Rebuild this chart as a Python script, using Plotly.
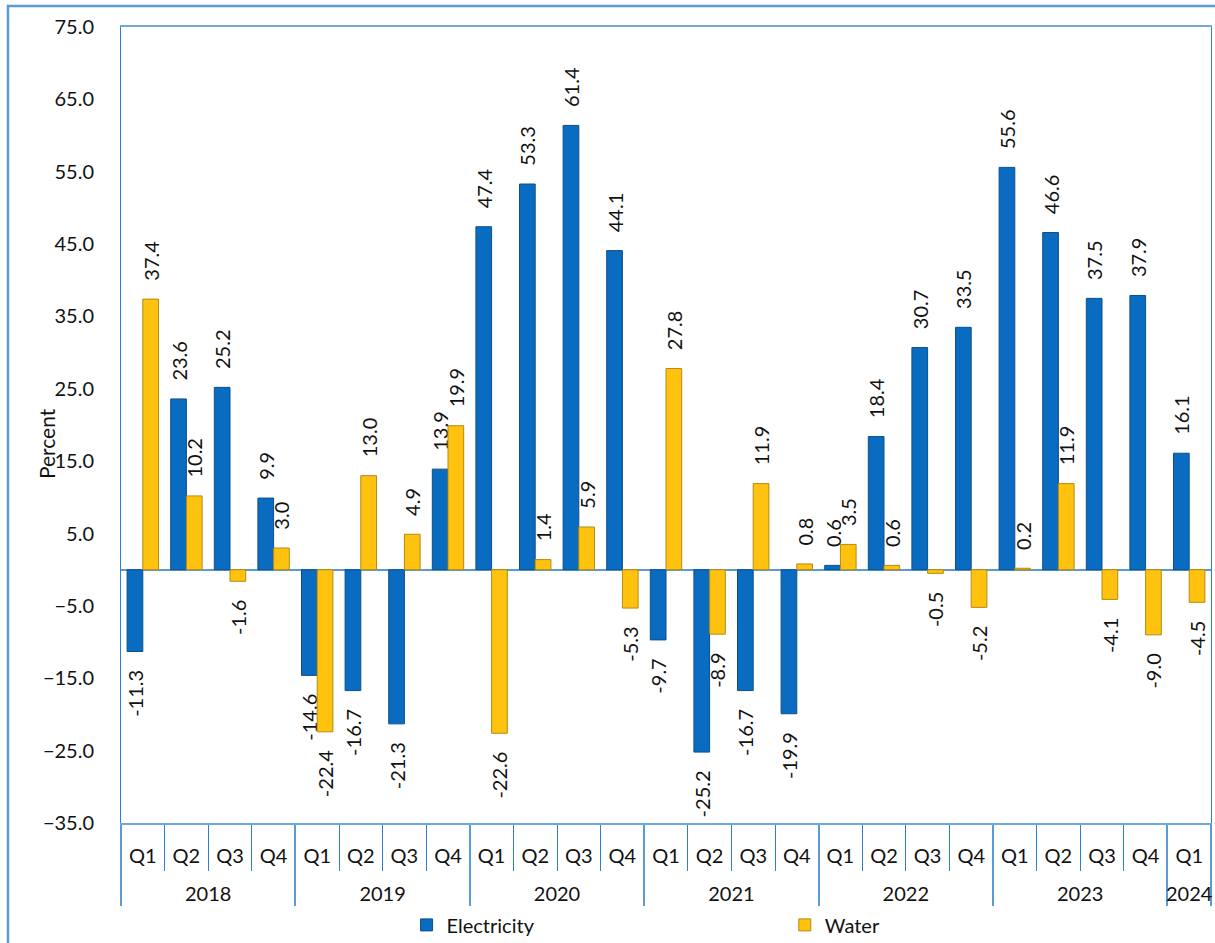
import plotly.graph_objects as go

years = ["2018"] * 4 + ["2019"] * 4 + ["2020"] * 4 + ["2021"] * 4 + ["2022"] * 4 + ["2023"] * 4 + ["2024"]
quarters = ["Q1", "Q2", "Q3", "Q4"] * 6 + ["Q1"]

electricity = [-11.3, 23.6, 25.2, 9.9,
               -14.6, -16.7, -21.3, 13.9,
               47.4, 53.3, 61.4, 44.1,
               -9.7, -25.2, -16.7, -19.9,
               0.6, 18.4, 30.7, 33.5,
               55.6, 46.6, 37.5, 37.9,
               16.1]
water = [37.4, 10.2, -1.6, 3.0,
         -22.4, 13.0, 4.9, 19.9,
         -22.6, 1.4, 5.9, -5.3,
         27.8, -8.9, 11.9, 0.8,
         3.5, 0.6, -0.5, -5.2,
         0.2, 11.9, -4.1, -9.0,
         -4.5]

FONT = "Lato"
TXT = "#111111"
PAD = "\u00a0" * 3


def labels(vals):
    # rotated labels read bottom-to-top; pad the side that faces the bar
    return [(PAD + f"{v:.1f}") if v >= 0 else (f"{v:.1f}" + PAD) for v in vals]


x = [["<br>" + y for y in years], quarters]

fig = go.Figure()
fig.add_trace(go.Bar(
    x=x, y=electricity, name="Electricity", legend="legend",
    marker=dict(color="#0a6cc0", line=dict(color="#0b4f8c", width=1)),
    text=labels(electricity), textposition="outside", textangle=-90,
    textfont=dict(family=FONT, size=20, color=TXT),
    constraintext="none", cliponaxis=False,
))
fig.add_trace(go.Bar(
    x=x, y=water, name="Water", legend="legend2",
    marker=dict(color="#ffc20e", line=dict(color="#b38b10", width=1)),
    text=labels(water), textposition="outside", textangle=-90,
    textfont=dict(family=FONT, size=20, color=TXT),
    constraintext="none", cliponaxis=False,
))

leg_common = dict(orientation="h", y=-0.128, xanchor="left", yanchor="middle",
                  font=dict(family=FONT, size=20, color=TXT), itemwidth=30,
                  bgcolor="rgba(0,0,0,0)")

fig.update_layout(
    width=1215, height=943,
    margin=dict(l=121, r=4, t=27, b=120, autoexpand=False),
    paper_bgcolor="white", plot_bgcolor="white",
    barmode="group", bargap=0.28, bargroupgap=0,
    font=dict(family=FONT, size=20, color=TXT),
    showlegend=True,
    legend=dict(x=0.262, **leg_common),
    legend2=dict(x=0.609, **leg_common),
    xaxis=dict(
        type="multicategory",
        showline=True, linecolor="#6fa8dc", linewidth=2, mirror=True,
        showdividers=True, dividercolor="#5b9bd5", dividerwidth=1.5,
        ticks="outside", tickson="boundaries", ticklen=46, tickcolor="#2a7fd0",
        tickangle=0, ticklabelstandoff=14, automargin=False,
        tickfont=dict(family=FONT, size=20, color=TXT),
        showgrid=False,
    ),
    yaxis=dict(
        range=[-35, 75], tick0=5, dtick=10, tickformat=".1f",
        showline=True, linecolor="#2a7fd0", linewidth=1, mirror=True,
        zeroline=True, zerolinecolor="#5b9bd5", zerolinewidth=1.5,
        showgrid=False, ticks="", ticklabelstandoff=22, automargin=False,
        tickfont=dict(family=FONT, size=20, color=TXT),
    ),
    annotations=[dict(
        text="Percent", xref="paper", yref="paper", x=-0.0688, y=0.476,
        textangle=-90, showarrow=False, font=dict(family=FONT, size=21, color=TXT),
        xanchor="center", yanchor="middle",
    )],
    shapes=[dict(
        type="rect", xref="paper", yref="paper",
        x0=-0.1037, y0=-0.3, x1=1.04, y1=1.0264,
        line=dict(color="#5b9bd5", width=2.5), fillcolor="rgba(0,0,0,0)", layer="below",
    )],
)

fig.write_html("out.html", config={"displayModeBar": False},
               post_script="document.body.style.margin='0';document.body.style.overflow='hidden';")
